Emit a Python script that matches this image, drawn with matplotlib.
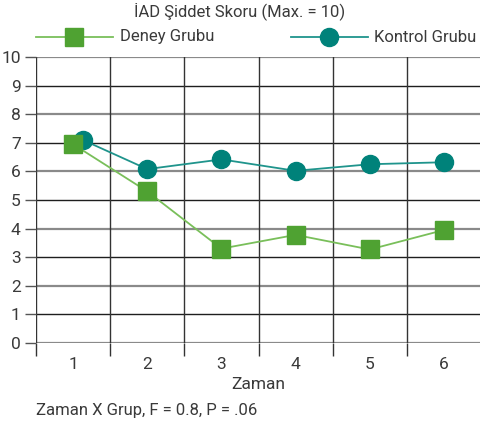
import numpy as np
import matplotlib.pyplot as plt
from matplotlib.lines import Line2D

plt.rcParams['font.family'] = ['Roboto', 'DejaVu Sans']

# data
zaman = [1, 2, 3, 4, 5, 6]
kontrol_x = [1.13, 2, 3, 4, 5, 6]   # first circle drawn slightly right in the original
deney = [6.95, 5.3, 3.3, 3.78, 3.27, 3.95]
kontrol = [7.1, 6.08, 6.42, 6.02, 6.25, 6.32]
y_ticks = list(range(0, 11))

green_mk = '#4fa232'
green_ln = '#79bf5a'
teal_mk = '#00827a'
teal_ln = '#1f948c'
text_col = '#3a3a3a'

fig = plt.figure(figsize=(4.81, 4.23), dpi=100)
ax = fig.add_axes([36 / 481, 80 / 423, 445 / 481, 286 / 423])
ax.set_xlim(0.5, 6.5 - 5 / 75)
ax.set_ylim(0, 10)
for s in ax.spines.values():
    s.set_visible(False)

# grid: odd rows dark, even rows gray
for v in y_ticks:
    if v % 2 == 0:
        ax.axhline(v, color='#8a8a8a', lw=1.6, zorder=1)
    else:
        ax.axhline(v, color='#1e1e1e', lw=1.0, zorder=1)
bounds = np.arange(0.5, 7.0, 1.0)
for b in bounds:
    ax.axvline(b, color='#333333', lw=1.0, zorder=1)

ax.plot(zaman, deney, color=green_ln, lw=1.3, marker='s', ms=13.5,
        mfc=green_mk, mec=green_mk, zorder=3)
ax.plot(kontrol_x, kontrol, color=teal_ln, lw=1.3, marker='o', ms=13,
        mfc=teal_mk, mec=teal_mk, zorder=2)

ax.set_yticks(y_ticks)
ax.set_yticklabels([str(v) for v in y_ticks])
ax.tick_params(axis='y', length=8, width=1, color='#555555', labelsize=12.5,
               labelcolor=text_col, pad=3)
ax.set_xticks(zaman)
ax.set_xticklabels([str(v) for v in zaman])
ax.set_xticks(bounds, minor=True)
ax.tick_params(axis='x', which='major', length=0, labelsize=12.5,
               labelcolor=text_col, pad=10)
ax.tick_params(axis='x', which='minor', length=9, width=1, color='#333333')
ax.set_xlabel('Zaman', fontsize=12.5, color=text_col, labelpad=4)

fig.text(240 / 481, 1 - 11 / 423, 'İAD Şiddet Skoru (Max. = 10)', ha='center',
         va='center', fontsize=12, color=text_col)
fig.text(36 / 481, 1 - 410 / 423, 'Zaman X Grup, F = 0.8, P = .06', ha='left',
         va='center', fontsize=12, color=text_col)

# legend built by hand to match spacing
fig.add_artist(Line2D([36 / 481, 113 / 481], [1 - 37 / 423] * 2, color=green_ln, lw=1.3))
fig.add_artist(Line2D([74 / 481], [1 - 37 / 423], marker='s', ms=13.5,
                      mfc=green_mk, mec=green_mk))
fig.text(120 / 481, 1 - 37 / 423, 'Deney Grubu', ha='left', va='center',
         fontsize=12, color=text_col)
fig.add_artist(Line2D([291 / 481, 368 / 481], [1 - 37 / 423] * 2, color=teal_ln, lw=1.3))
fig.add_artist(Line2D([329 / 481], [1 - 37 / 423], marker='o', ms=13,
                      mfc=teal_mk, mec=teal_mk))
fig.text(374 / 481, 1 - 37 / 423, 'Kontrol Grubu', ha='left', va='center',
         fontsize=12, color=text_col)

fig.savefig('out.png', dpi=100)
